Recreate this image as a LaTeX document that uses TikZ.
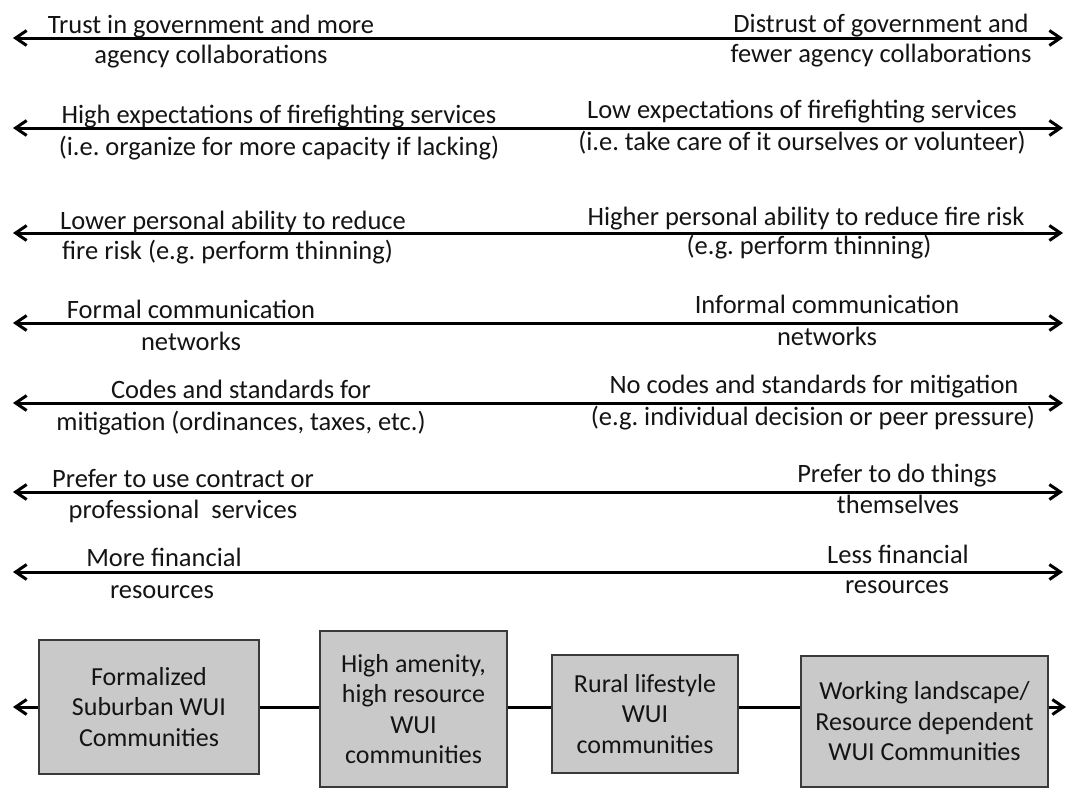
\documentclass[tikz,border=0pt]{standalone}
\usepackage{fontspec}
\setmainfont{Carlito}
\frenchspacing
\usetikzlibrary{arrows.meta}
\definecolor{txt}{HTML}{141414}
\definecolor{boxfill}{HTML}{C9C9C9}
\definecolor{boxline}{HTML}{3A3A3A}
\begin{document}
\begin{tikzpicture}[x=1pt,y=-1pt,
  lbl/.style={inner sep=0pt, anchor=base, font=\fontsize{26.5}{31}\selectfont, text=txt},
  lblw/.style={lbl, anchor=base west},
  axis/.style={line width=3pt, draw=black, {Straight Barb[length=11pt,width=15pt]}-{Straight Barb[length=11pt,width=15pt]}},
  conn/.style={line width=3pt, draw=black},
  commbox/.style={draw=boxline, line width=2.5pt, fill=boxfill, align=center, inner sep=0pt,
    font=\fontsize{26}{30.5}\selectfont, text=txt}]
\useasboundingbox (0,0) rectangle (1068,790);

% ---- row arrows ----
\foreach \i/\y in {1/38,2/128,3/233,4/323,5/403,6/492,7/572}{
  \coordinate (aL\i) at (13,\y);
  \coordinate (aR\i) at (1063,\y);
  \draw[axis] (aL\i) -- (aR\i);
}

% ---- row 1 ----
\node[lbl] (l1a) at (211,33) {Trust in government and more};
\node[lbl] (l1b) at (211,63) {agency collaborations};
\node[lbl] (r1a) at (881,32) {Distrust of government and};
\node[lbl] (r1b) at (881,62) {fewer agency collaborations};

% ---- row 2 ----
\node[lbl] (l2a) at (279,123) {High expectations of firefighting services};
\node[lbl] (l2b) at (279,155) {(i.e. organize for more capacity if lacking)};
\node[lbl] (r2a) at (802,118) {Low expectations of firefighting services};
\node[lbl] (r2b) at (802,150) {(i.e. take care of it ourselves or volunteer)};

% ---- row 3 ----
\node[lblw] (l3a) at (60,229) {Lower personal ability to reduce};
\node[lblw] (l3b) at (62,259) {fire risk (e.g. perform thinning)};
\node[lbl] (r3a) at (806,225) {Higher personal ability to reduce fire risk};
\node[lbl] (r3b) at (809,254) {(e.g. perform thinning)};

% ---- row 4 ----
\node[lbl] (l4a) at (191,318) {Formal communication};
\node[lbl] (l4b) at (191,350) {networks};
\node[lbl] (r4a) at (827,313) {Informal communication};
\node[lbl] (r4b) at (827,345) {networks};

% ---- row 5 ----
\node[lbl] (l5a) at (241,398) {Codes and standards for};
\node[lbl] (l5b) at (241,430) {mitigation (ordinances, taxes, etc.)};
\node[lbl] (r5a) at (814,393) {No codes and standards for mitigation};
\node[lbl] (r5b) at (813,425) {(e.g. individual decision or peer pressure)};

% ---- row 6 ----
\node[lbl] (l6a) at (183,487) {Prefer to use contract or};
\node[lbl] (l6b) at (183,518) {professional\ \ services};
\node[lbl] (r6a) at (897,482) {Prefer to do things};
\node[lbl] (r6b) at (898,513) {themselves};

% ---- row 7 ----
\node[lbl] (l7a) at (164,566) {More financial};
\node[lbl] (l7b) at (162,598) {resources};
\node[lbl] (r7a) at (898,563) {Less financial};
\node[lbl] (r7b) at (897,593) {resources};

% ---- community types ----
\node[commbox, minimum width=220pt, minimum height=134pt] (b1) at (149,707)
  {Formalized\\Suburban WUI\\Communities};
\node[commbox, minimum width=187pt, minimum height=156pt] (b2) at (413.5,709)
  {High amenity,\\high resource\\WUI\\communities};
\node[commbox, minimum width=186pt, minimum height=118pt] (b3) at (645,714)
  {Rural lifestyle\\WUI\\communities};
\node[commbox, minimum width=247pt, minimum height=131pt] (b4) at (924.5,721.5)
  {Working landscape/\\Resource dependent\\WUI Communities};

\coordinate (bl) at (13,707);
\coordinate (br) at (1066,707);
\draw[conn, -{Straight Barb[length=11pt,width=15pt]}] (b1.west |- bl) -- (bl);
\draw[conn] (b1.east |- bl) -- (b2.west |- bl);
\draw[conn] (b2.east |- bl) -- (b3.west |- bl);
\draw[conn] (b3.east |- bl) -- (b4.west |- bl);
\draw[conn, -{Straight Barb[length=11pt,width=15pt]}] (b4.east |- bl) -- (br);
\end{tikzpicture}
\end{document}
